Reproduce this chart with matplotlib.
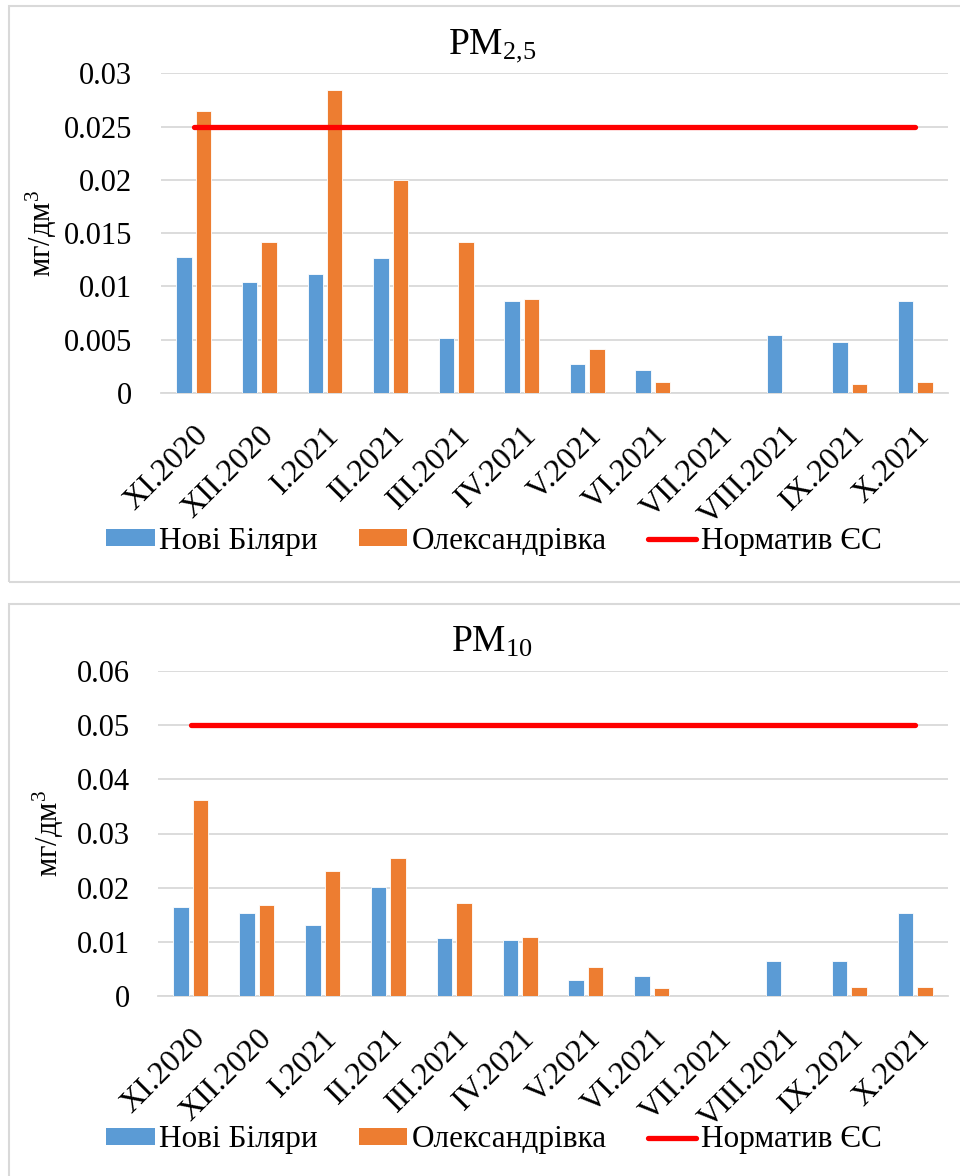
import matplotlib
matplotlib.use("Agg")
import matplotlib.pyplot as plt
from matplotlib.patches import Rectangle, Patch
from matplotlib.lines import Line2D
import numpy as np

plt.rcParams['font.family'] = ['Liberation Serif', 'DejaVu Serif']
plt.rcParams['mathtext.fontset'] = 'custom'
plt.rcParams['mathtext.rm'] = 'Liberation Serif'
plt.rcParams['mathtext.it'] = 'Liberation Serif'

months = ["XI.2020", "XII.2020", "I.2021", "II.2021", "III.2021", "IV.2021",
          "V.2021", "VI.2021", "VII.2021", "VIII.2021", "IX.2021", "X.2021"]
series_names = ["Нові Біляри", "Олександрівка", "Норматив ЄС"]

# PM2.5, mg/dm3
pm25_biliary = [0.0128, 0.0104, 0.0112, 0.0127, 0.0052, 0.0086, 0.0027, 0.0022, 0.0, 0.0054, 0.0048, 0.0086]
pm25_oleks = [0.0265, 0.0142, 0.0284, 0.0200, 0.0142, 0.0088, 0.0041, 0.0010, 0.0, 0.0, 0.0008, 0.0010]
pm25_limit = 0.025

# PM10, mg/dm3
pm10_biliary = [0.0165, 0.0153, 0.0131, 0.0202, 0.0108, 0.0103, 0.0030, 0.0037, 0.0, 0.0065, 0.0065, 0.0154]
pm10_oleks = [0.0362, 0.0168, 0.0231, 0.0255, 0.0171, 0.0109, 0.0054, 0.0015, 0.0, 0.0, 0.0017, 0.0017]
pm10_limit = 0.05

BLUE = "#5B9BD5"
ORANGE = "#ED7D31"
RED = "#FF0000"
GRID = "#D9D9D9"

W, H = 960, 1176
fig = plt.figure(figsize=(W / 100, H / 100), dpi=100)


def fx(px):
    return px / W


def fy(py):
    return 1 - py / H


def panel(top, bottom, ax_left, ax_right, ax_top, ax_bottom, title, b1, b2, limit,
          ymax, step, ylabel_x, legend_y, ypad):
    # panel frame
    fig.patches.append(Rectangle((fx(9), fy(bottom)), fx(980) - fx(9), fy(top) - fy(bottom),
                                 transform=fig.transFigure, fill=False,
                                 edgecolor=GRID, linewidth=1.5))
    ax = fig.add_axes([fx(ax_left), fy(ax_bottom), fx(ax_right) - fx(ax_left),
                       fy(ax_top) - fy(ax_bottom)])
    x = np.arange(len(months))
    w = 0.235
    off = 0.148
    ax.bar(x - off, b1, width=w, color=BLUE, edgecolor="white", linewidth=0.6, zorder=3)
    ax.bar(x + off, b2, width=w, color=ORANGE, edgecolor="white", linewidth=0.6, zorder=3)
    ax.plot(x, [limit] * len(x), color=RED, linewidth=3.8, solid_capstyle="round", zorder=4)
    ax.set_xlim(-0.5, len(months) - 0.5)
    ax.set_ylim(0, ymax)
    ticks = np.arange(0, ymax + step / 2, step)
    ax.set_yticks(ticks)
    ax.set_yticklabels([("%g" % t) for t in ticks])
    ax.yaxis.grid(True, color=GRID, linewidth=1.3, zorder=0)
    ax.set_axisbelow(True)
    for s in ["top", "right", "left"]:
        ax.spines[s].set_visible(False)
    ax.spines["bottom"].set_color(GRID)
    ax.spines["bottom"].set_linewidth(1.3)
    ax.tick_params(axis="both", length=0)
    ax.tick_params(axis="y", pad=ypad, labelsize=22)
    ax.set_xticks(x)
    ax.set_xticklabels(months, rotation=45, ha="right", va="top",
                       rotation_mode="anchor", fontsize=23)
    ax.tick_params(axis="x", pad=20)
    fig.text(fx(492), fy(top + 48), title, ha="center", va="baseline", fontsize=27)
    fig.text(fx(ylabel_x), (ax.get_position().y0 + ax.get_position().y1) / 2,
             "мг/дм$^3$", rotation=90, ha="center", va="center", fontsize=22)
    handles = [Patch(facecolor=BLUE, edgecolor="none"),
               Patch(facecolor=ORANGE, edgecolor="none"),
               Line2D([], [], color=RED, linewidth=3.8, solid_capstyle="round")]
    fig.legend(handles, series_names, loc="center", bbox_to_anchor=(fx(494), fy(legend_y)),
               ncol=3, frameon=False, fontsize=22.5, handlelength=1.55, handleheight=0.5,
               handletextpad=0.15, columnspacing=1.3, borderaxespad=0)
    return ax


panel(6, 582, 161, 948, 73.3, 393, "PM$_{2{,}5}$", pm25_biliary, pm25_oleks, pm25_limit,
      0.03, 0.005, 41, 541, 21)
panel(604, 1200, 158, 948, 671, 996, "PM$_{10}$", pm10_biliary, pm10_oleks, pm10_limit,
      0.06, 0.01, 48, 1140, 20)

fig.savefig("out.png", dpi=100)
